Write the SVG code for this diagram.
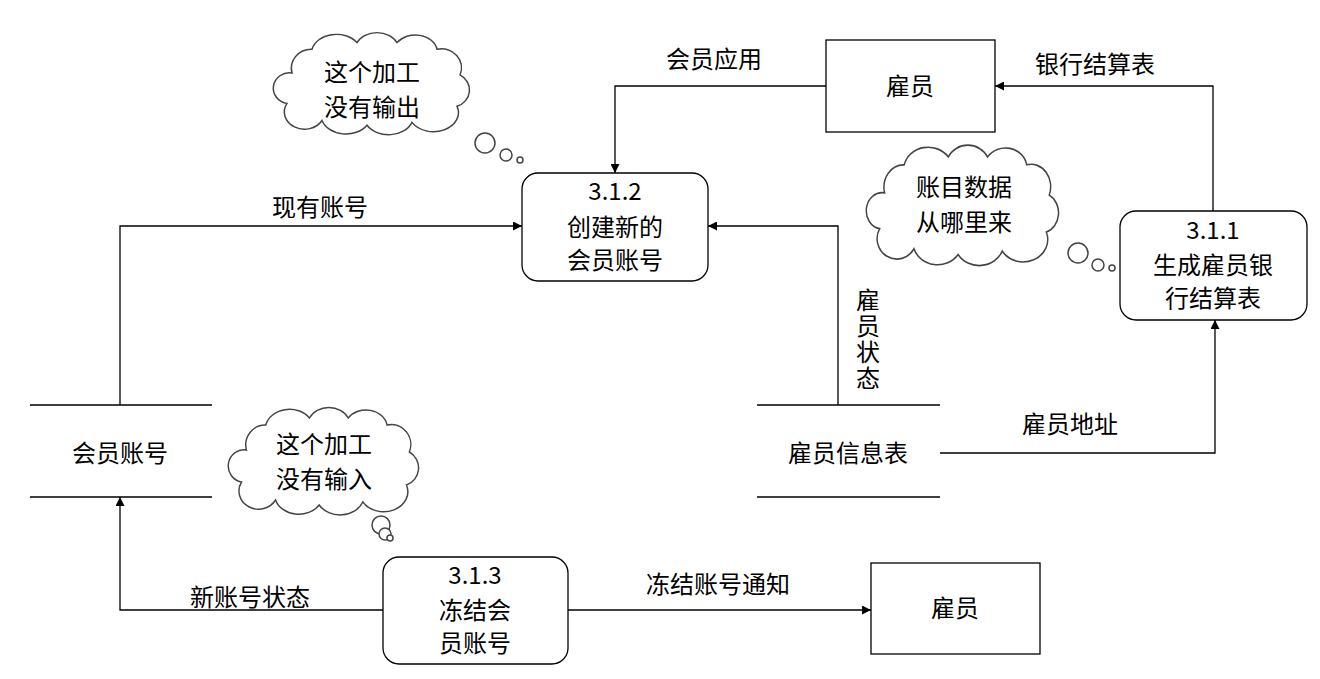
<svg xmlns="http://www.w3.org/2000/svg" width="1320" height="679" viewBox="0 0 1320 679">
<style>
text{font-family:"Noto Sans CJK SC","Liberation Sans",sans-serif;font-size:24px;fill:#000;text-anchor:middle}
.v{writing-mode:vertical-rl;text-anchor:start;letter-spacing:2px}
.b{fill:#fff;stroke:#000;stroke-width:1.3}
.c{fill:none;stroke:#000;stroke-width:1.3}
.cl{fill:#fff;stroke:#444;stroke-width:1.5}
</style>
<defs>
<marker id="a" viewBox="0 0 10 10" refX="10" refY="5" markerWidth="9" markerHeight="9" orient="auto" markerUnits="userSpaceOnUse"><path d="M0,0L10,5L0,10z" fill="#000"/></marker>
<path id="cloud" d="M20,40 A20,20 0 0 1 40,15 A25,20 0 0 1 85,8 A22,18 0 0 1 125,8 A22,18 0 0 1 165,15 A20,20 0 0 1 188,42 A18,18 0 0 1 185,75 A25,20 0 0 1 140,92 A25,20 0 0 1 95,95 A25,20 0 0 1 50,90 A20,18 0 0 1 15,72 A16,16 0 0 1 20,40 Z"/>
</defs>
<g id="connectors" class="c">
<path d="M826,86H615V173" marker-end="url(#a)"/>
<path d="M120,405V226H522" marker-end="url(#a)"/>
<path d="M838,405V226H708" marker-end="url(#a)"/>
<path d="M940,453H1215V320" marker-end="url(#a)"/>
<path d="M1213,211V86H995" marker-end="url(#a)"/>
<path d="M383,610H120V497" marker-end="url(#a)"/>
<path d="M568,610H871" marker-end="url(#a)"/>
</g>
<g id="labels">
<text x="714" y="68">会员应用</text>
<text x="320" y="216">现有账号</text>
<text x="1095" y="73">银行结算表</text>
<text x="1070" y="433">雇员地址</text>
<text x="250" y="606">新账号状态</text>
<text x="718" y="593">冻结账号通知</text>
<text class="v" x="868" y="288">雇员状态</text>
</g>
<g id="emp1"><rect class="b" x="826" y="40" width="169" height="92"/><text x="910" y="95">雇员</text></g>
<g id="emp2"><rect class="b" x="871" y="563" width="169" height="91"/><text x="955" y="617">雇员</text></g>
<g id="p312"><rect class="b" x="522" y="173" width="186" height="108" rx="16"/><text x="615" y="200">3.1.2</text><text x="615" y="236">创建新的</text><text x="615" y="269">会员账号</text></g>
<g id="p311"><rect class="b" x="1120" y="211" width="187" height="109" rx="16"/><text x="1213" y="239">3.1.1</text><text x="1213" y="274">生成雇员银</text><text x="1213" y="307">行结算表</text></g>
<g id="p313"><rect class="b" x="383" y="557" width="185" height="107" rx="16"/><text x="475" y="584">3.1.3</text><text x="475" y="619">冻结会</text><text x="475" y="652">员账号</text></g>
<g id="store1" class="c"><path d="M30,405H212M30,497H212"/></g>
<text x="120" y="462">会员账号</text>
<g id="store2" class="c"><path d="M757,405H940M757,497H940"/></g>
<text x="848" y="462">雇员信息表</text>
<g id="cloud1">
<use href="#cloud" class="cl" transform="translate(272,35) scale(1,0.95)"/>
<circle class="cl" cx="485" cy="143" r="10"/><circle class="cl" cx="506" cy="155" r="6"/><circle class="cl" cx="520" cy="160" r="3"/>
<text x="372" y="81">这个加工</text><text x="372" y="116">没有输出</text>
</g>
<g id="cloud2">
<use href="#cloud" class="cl" transform="translate(227,410) scale(0.97,1)"/>
<circle class="cl" cx="381" cy="525" r="9"/><circle class="cl" cx="385" cy="534" r="6"/><circle class="cl" cx="390" cy="538" r="3"/>
<text x="324" y="453">这个加工</text><text x="324" y="488">没有输入</text>
</g>
<g id="cloud3">
<use href="#cloud" class="cl" transform="translate(865,148) scale(0.98,1.12)"/>
<circle class="cl" cx="1078" cy="253" r="10"/><circle class="cl" cx="1098" cy="265" r="6"/><circle class="cl" cx="1112" cy="268" r="3"/>
<text x="964" y="196">账目数据</text><text x="964" y="231">从哪里来</text>
</g>
</svg>
